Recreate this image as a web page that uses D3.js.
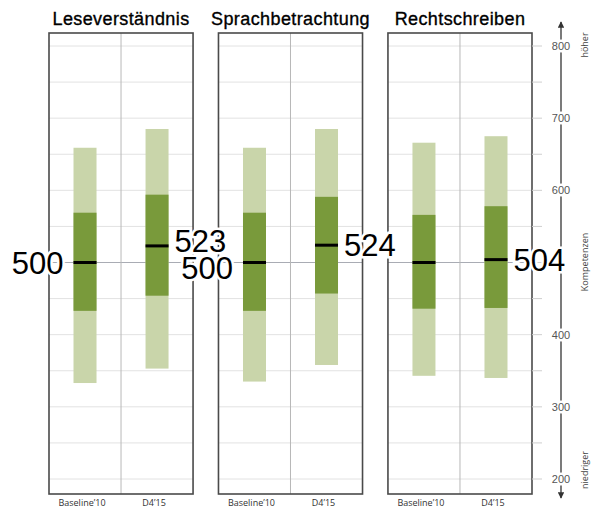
<!DOCTYPE html>
<html>
<head>
<meta charset="utf-8">
<script src="https://cdn.jsdelivr.net/npm/d3@7"></script>
<style>
  body { margin: 0; background: #fff; }
  svg { display: block; font-family: "Liberation Sans", Arial, sans-serif; }
</style>
</head>
<body>
<div id="chart"></div>
<script>
// values
var subjects = ['Leseverständnis', 'Sprachbetrachtung', 'Rechtschreiben'];
var cohorts = ['Baseline’10', 'D4’15'];
var p05 = [[333, 353], [335, 358], [343, 340]];
var p25 = [[433, 454], [433, 457], [436, 437]];
var p75 = [[569, 594], [569, 591], [566, 578]];
var p95 = [[659, 685], [659, 685], [666, 675]];
var medians = [[500, 523], [500, 524], [500, 504]];
var showLabel = [[true, true], [true, true], [false, true]];
var yTicks = [200, 300, 400, 600, 700, 800];
var gridValues = d3.range(200, 801, 50);

var W = 595, H = 508;
var panelTop = 33, panelBottom = 494;
var barWidth = 23;
var lightGreen = '#c9d5aa', darkGreen = '#799a3b';

var svg = d3.select('#chart').append('svg')
    .attr('width', W)
    .attr('height', H);

var y = d3.scaleLinear().domain([200, 800]).range([479, 46]);
var px = d3.scaleBand().domain(subjects).range([49, 532]).paddingInner(0.15);
var cx = d3.scaleBand().domain(cohorts).range([0, px.bandwidth()]);

var panels = svg.selectAll('g.panel')
    .data(subjects)
    .enter().append('g')
    .attr('class', 'panel')
    .attr('transform', function(d) { return 'translate(' + px(d) + ',0)'; });

// gridlines
panels.each(function() {
    var g = d3.select(this);
    g.selectAll('line.grid')
        .data(gridValues)
        .enter().append('line')
        .attr('class', 'grid')
        .attr('x1', 0).attr('x2', px.bandwidth())
        .attr('y1', function(d) { return y(d); })
        .attr('y2', function(d) { return y(d); })
        .style('stroke', function(d) { return d === 500 ? '#a9acb4' : '#e2e2e2'; })
        .style('stroke-width', 1);
    g.append('line')
        .attr('x1', px.bandwidth() / 2).attr('x2', px.bandwidth() / 2)
        .attr('y1', panelTop).attr('y2', panelBottom)
        .style('stroke', '#b8b8b8');
});

// bars
panels.each(function(s, i) {
    var g = d3.select(this);
    cohorts.forEach(function(c, j) {
        var x0 = cx(c) + cx.bandwidth() / 2 - barWidth / 2;
        g.append('rect')
            .attr('x', x0).attr('width', barWidth)
            .attr('y', y(p95[i][j]))
            .attr('height', y(p05[i][j]) - y(p95[i][j]))
            .style('fill', lightGreen);
        g.append('rect')
            .attr('x', x0).attr('width', barWidth)
            .attr('y', y(p75[i][j]))
            .attr('height', y(p25[i][j]) - y(p75[i][j]))
            .style('fill', darkGreen);
        g.append('line')
            .attr('x1', x0).attr('x2', x0 + barWidth)
            .attr('y1', y(medians[i][j])).attr('y2', y(medians[i][j]))
            .style('stroke', '#000')
            .style('stroke-width', 3);
    });

    g.append('rect')
        .attr('x', 0).attr('y', panelTop)
        .attr('width', px.bandwidth())
        .attr('height', panelBottom - panelTop)
        .style('fill', 'none')
        .style('stroke', '#4a4a4a')
        .style('stroke-width', 1.6);

    g.append('text')
        .attr('x', px.bandwidth() / 2)
        .attr('y', 25)
        .attr('text-anchor', 'middle')
        .style('font-size', '18px')
        .style('letter-spacing', '0.4px')
        .style('stroke', '#000')
        .style('stroke-width', 0.35)
        .text(s);

    g.selectAll('text.cohort')
        .data(cohorts)
        .enter().append('text')
        .attr('class', 'cohort')
        .attr('x', function(d) { return cx(d) + cx.bandwidth() / 2 - 3; })
        .attr('y', 506)
        .attr('text-anchor', 'middle')
        .style('font-family', '"Open Sans", sans-serif')
        .style('font-size', '9px')
        .style('fill', '#333')
        .text(function(d) { return d; });
});

// right axis
var axisX = 561;
var axis = svg.append('g');
axis.selectAll('line.tick')
    .data(gridValues)
    .enter().append('line')
    .attr('x1', 532).attr('x2', 542)
    .attr('y1', function(d) { return y(d); })
    .attr('y2', function(d) { return y(d); })
    .style('stroke', '#cfcfcf');

var defs = svg.append('defs');
defs.append('marker')
    .attr('id', 'arrow')
    .attr('viewBox', '0 0 10 10')
    .attr('refX', 9).attr('refY', 5)
    .attr('markerWidth', 5).attr('markerHeight', 5)
    .attr('orient', 'auto')
    .append('path')
    .attr('d', 'M0,0L10,5L0,10z')
    .style('fill', '#333');

axis.append('line')
    .attr('x1', axisX).attr('x2', axisX)
    .attr('y1', y(800)).attr('y2', 22)
    .style('stroke', '#333').style('stroke-width', 1.3)
    .attr('marker-end', 'url(#arrow)');
axis.append('line')
    .attr('x1', axisX).attr('x2', axisX)
    .attr('y1', y(800)).attr('y2', y(200))
    .style('stroke', '#333').style('stroke-width', 1.3);
axis.append('line')
    .attr('x1', axisX).attr('x2', axisX)
    .attr('y1', y(200)).attr('y2', 498)
    .style('stroke', '#333').style('stroke-width', 1.3)
    .attr('marker-end', 'url(#arrow)');

axis.selectAll('text.ylab')
    .data(yTicks)
    .enter().append('text')
    .attr('class', 'ylab')
    .attr('x', axisX)
    .attr('y', function(d) { return y(d) + 4; })
    .attr('text-anchor', 'middle')
    .style('font-size', '11px')
    .style('fill', '#555')
    .style('stroke', '#fff')
    .style('stroke-width', 5)
    .style('paint-order', 'stroke')
    .text(function(d) { return d; });

var sideLabels = [
    { text: 'höher', y: 45 },
    { text: 'Kompetenzen', y: 262 },
    { text: 'niedriger', y: 470 }
];
axis.selectAll('text.side')
    .data(sideLabels)
    .enter().append('text')
    .attr('class', 'side')
    .attr('transform', function(d) { return 'translate(588,' + d.y + ') rotate(-90)'; })
    .attr('text-anchor', 'middle')
    .style('font-family', '"Open Sans", sans-serif')
    .style('font-size', '9px')
    .style('fill', '#444')
    .text(function(d) { return d.text; });

// median value labels
var labels = [];
subjects.forEach(function(s, i) {
    cohorts.forEach(function(c, j) {
        if (!showLabel[i][j]) { return; }
        var xc = px(s) + cx(c) + cx.bandwidth() / 2;
        labels.push({
            value: medians[i][j],
            x: j === 0 ? xc - barWidth / 2 - 10 : xc + barWidth / 2 + 6,
            anchor: j === 0 ? 'end' : 'start',
            cy: y(medians[i][j])
        });
    });
});

var labelText = svg.selectAll('text.median')
    .data(labels)
    .enter().append('text')
    .attr('class', 'median')
    .attr('x', function(d) { return d.x; })
    .attr('text-anchor', function(d) { return d.anchor; })
    .style('font-size', '31px')
    .style('fill', '#000')
    .style('stroke', '#fff')
    .style('stroke-width', 5)
    .style('paint-order', 'stroke')
    .text(function(d) { return d.value; });

// push apart labels that would overlap
labelText.each(function(d) { d.box = this.getBBox(); });
var minGap = 27;
for (var a = 0; a < labels.length; a++) {
    for (var b = a + 1; b < labels.length; b++) {
        var la = labels[a], lb = labels[b];
        var xOverlap = la.box.x < lb.box.x + lb.box.width && lb.box.x < la.box.x + la.box.width;
        var dy = lb.cy - la.cy;
        if (xOverlap && Math.abs(dy) < minGap) {
            var shift = (minGap - Math.abs(dy)) / 2 * (dy >= 0 ? 1 : -1);
            la.cy -= shift;
            lb.cy += shift;
        }
    }
}
labelText.attr('y', function(d) { return d.cy + 11; });
</script>
</body>
</html>
